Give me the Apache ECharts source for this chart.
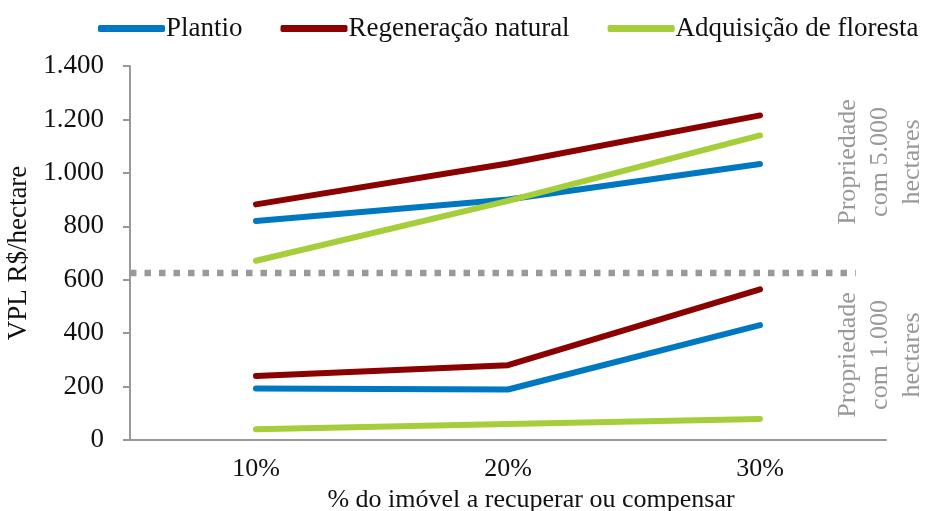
<!DOCTYPE html>
<html>
<head>
<meta charset="utf-8">
<script src="https://cdn.jsdelivr.net/npm/echarts@6/dist/echarts.min.js"></script>
<style>
  html, body { margin: 0; padding: 0; background: #fff; }
  #chart { width: 925px; height: 511px; }
</style>
</head>
<body>
<div id="chart"></div>
<script>
// categorias e valores (VPL R$/hectare)
var categories = ['10%', '20%', '30%'];
var seriesNames = ['Plantio', 'Regeneração natural', 'Adquisição de floresta'];
var colors = ['#0078c1', '#8b0000', '#a6cd3a'];

// propriedade com 5.000 hectares
var plantio5000 = [820, 900, 1033];
var regeneracao5000 = [882, 1035, 1215];
var aquisicao5000 = [671, 895, 1140];

// propriedade com 1.000 hectares
var plantio1000 = [193, 189, 430];
var regeneracao1000 = [240, 280, 564];
var aquisicao1000 = [40, 60, 79];

// linha divisória entre os dois grupos
var divider = 625;
var dividerEnd = 2.88; // em unidades de categoria

var font = 'Liberation Serif';

function lineSeries(name, data, color) {
    return {
        name: name,
        type: 'line',
        data: data,
        symbol: 'none',
        color: color,
        lineStyle: { width: 6, color: color, cap: 'round', join: 'round' },
        emphasis: { disabled: true }
    };
}

var myChart = echarts.init(document.getElementById('chart'));

var option = {
    animation: false,
    textStyle: { fontFamily: font },
    legend: {
        data: seriesNames,
        left: 98,
        top: 15,
        width: 827,
        padding: 0,
        icon: 'roundRect',
        itemWidth: 67,
        itemHeight: 7,
        itemGap: 38,
        textStyle: { fontFamily: font, fontSize: 27, color: '#111', padding: [0, 0, 0, -4] }
    },
    grid: { left: 130, right: 39, top: 66, bottom: 71, outerBoundsMode: 'none' },
    xAxis: [{
        type: 'category',
        data: categories,
        boundaryGap: true,
        name: '% do imóvel a recuperar ou compensar',
        nameLocation: 'middle',
        nameGap: 43,
        nameTextStyle: { fontFamily: font, fontSize: 26, color: '#111', padding: [0, 0, 0, 46] },
        axisLine: { lineStyle: { color: '#999', width: 2 } },
        axisTick: { length: 8, lineStyle: { color: '#999', width: 2 } },
        axisLabel: { fontFamily: font, fontSize: 26, color: '#111', margin: 16 }
    }, {
        type: 'value',
        min: 0,
        max: 3,
        show: false
    }],
    yAxis: {
        type: 'value',
        min: 0,
        max: 1400,
        interval: 200,
        name: 'VPL R$/hectare',
        nameLocation: 'middle',
        nameGap: 91,
        nameTextStyle: { fontFamily: font, fontSize: 27, color: '#111' },
        axisLine: { show: true, lineStyle: { color: '#999', width: 2 } },
        axisTick: { show: true, length: 7, lineStyle: { color: '#999', width: 2 } },
        splitLine: { show: false },
        axisLabel: {
            fontFamily: font, fontSize: 27, color: '#111', margin: 26,
            formatter: function (v) { return v.toLocaleString('de-DE'); }
        }
    },
    series: [
        lineSeries(seriesNames[0], plantio5000, colors[0]),
        lineSeries(seriesNames[1], regeneracao5000, colors[1]),
        lineSeries(seriesNames[2], aquisicao5000, colors[2]),
        lineSeries(seriesNames[0], plantio1000, colors[0]),
        lineSeries(seriesNames[1], regeneracao1000, colors[1]),
        lineSeries(seriesNames[2], aquisicao1000, colors[2]),
        {
            name: 'divisor',
            type: 'line',
            xAxisIndex: 1,
            data: [[0, divider], [dividerEnd, divider]],
            symbol: 'none',
            lineStyle: { width: 6.5, color: '#999', type: [6.5, 8], cap: 'butt' },
            emphasis: { disabled: true },
            z: 1
        }
    ],
    graphic: [
        {
            type: 'text', x: 880, y: 162, rotation: Math.PI / 2,
            style: {
                text: 'Propriedade\ncom 5.000\nhectares',
                font: '26px "Liberation Serif"', fill: '#999',
                align: 'center', verticalAlign: 'middle', lineHeight: 32
            }
        },
        {
            type: 'text', x: 880, y: 355, rotation: Math.PI / 2,
            style: {
                text: 'Propriedade\ncom 1.000\nhectares',
                font: '26px "Liberation Serif"', fill: '#999',
                align: 'center', verticalAlign: 'middle', lineHeight: 32
            }
        }
    ]
};

option && myChart.setOption(option);
</script>
</body>
</html>
